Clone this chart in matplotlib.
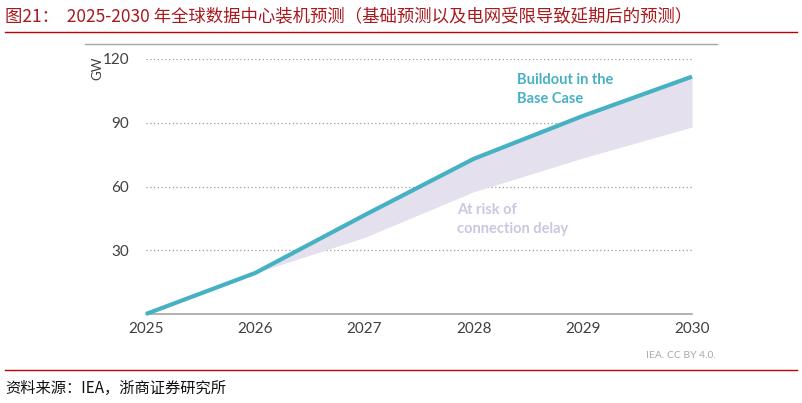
import matplotlib.pyplot as plt
from matplotlib.lines import Line2D

plt.rcParams['font.family'] = ['Lato', 'DejaVu Sans']

# values (GW)
years = [2025, 2026, 2027, 2028, 2029, 2030]
base_case = [0, 19.3, 46.5, 73.0, 93.2, 111.7]
delayed = [0, 19.3, 36.0, 57.5, 73.4, 88.0]
yticks = [30, 60, 90, 120]

title = "图21：  2025-2030 年全球数据中心装机预测（基础预测以及电网受限导致延期后的预测）"
source = "资料来源：IEA，浙商证券研究所"

W, H = 802, 403
fig = plt.figure(figsize=(W / 100, H / 100), dpi=100)


def fx(px):
    return px / W


def fy(py):
    return 1 - py / H


ax = fig.add_axes([fx(146), fy(314), fx(692) - fx(146), fy(59) - fy(314)])
ax.set_xlim(2025, 2030)
ax.set_ylim(0, 120)

teal = "#47B1C4"
lav = "#E4E0EE"
ax.fill_between(years, delayed, base_case, color=lav, lw=0, zorder=1)
ax.plot(years, base_case, color=teal, lw=3, solid_capstyle="butt", clip_on=False, zorder=3)

for v in yticks:
    ax.axhline(v, color="#9A9A9A", lw=0.9, ls=(0, (1, 2)), zorder=0)

for s in ["top", "right", "left"]:
    ax.spines[s].set_visible(False)
ax.spines["bottom"].set_color("#A6A6A6")
ax.spines["bottom"].set_linewidth(1.2)

ax.set_xticks(years)
ax.set_yticks(yticks)
ax.tick_params(length=0, labelsize=11, colors="#404040", pad=6)
ax.tick_params(axis="y", pad=12)

fig.text(fx(97), fy(68), "GW", rotation=90, ha="center", va="center",
         fontsize=9.5, color="#404040")

ax.text(2028.4, 113.5, "Buildout in the\nBase Case", color=teal, fontsize=10.5,
        fontweight="bold", va="top", ha="left", linespacing=1.45)
ax.text(2027.85, 52, "At risk of\nconnection delay", color="#CCC6E0", fontsize=10.5,
        fontweight="bold", va="top", ha="left", linespacing=1.45)

fig.text(fx(716), fy(355), "IEA. CC BY 4.0.", ha="right", va="center",
         fontsize=7.5, color="#A8A8A8")

# frame line above the plot
fig.add_artist(Line2D([fx(85), fx(717)], [fy(44), fy(44)], color="#A6A6A6", lw=1))
# red rules
fig.add_artist(Line2D([fx(5), fx(797)], [fy(32), fy(32)], color="#C00000", lw=1))
fig.add_artist(Line2D([fx(5), fx(797)], [fy(370), fy(370)], color="#C00000", lw=1))

fig.text(fx(5), fy(16), title, ha="left", va="center", fontsize=12.5,
         color="#A8191E", family=["Noto Sans CJK SC", "DejaVu Sans"])
fig.text(fx(5), fy(388), source, ha="left", va="center", fontsize=11,
         color="#111111", family=["Noto Sans CJK SC", "DejaVu Sans"])

fig.savefig("out.png", dpi=100)
